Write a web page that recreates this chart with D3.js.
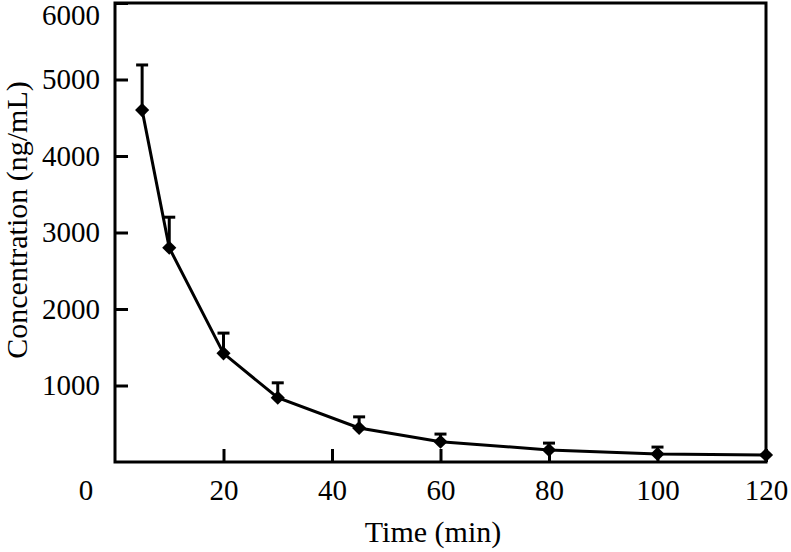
<!DOCTYPE html>
<html>
<head>
<meta charset="utf-8">
<script src="https://cdn.jsdelivr.net/npm/d3@7"></script>
<style>
  html, body { margin: 0; padding: 0; background: #fff; }
  svg { display: block; }
</style>
</head>
<body>
<svg id="chart" width="791" height="552"></svg>
<script>
// ---- data ----
const times = [5, 10, 20, 30, 45, 60, 80, 100, 120];
const conc  = [4600, 2800, 1420, 840, 445, 265, 157, 105, 92];
const sdev  = [590, 400, 265, 195, 145, 100, 90, 90, 0];
const xTicks = [20, 40, 60, 80, 100, 120];
const yTicks = [1000, 2000, 3000, 4000, 5000, 6000];
const xTitle = "Time (min)";
const yTitle = "Concentration (ng/mL)";

// ---- layout ----
const svg = d3.select("#chart");
const L = 115, R = 766, T = 3, B = 462;
const x = d3.scaleLinear().domain([0, 120]).range([L, R]);
const y = d3.scaleLinear().domain([0, 6000]).range([B, T]);
const font = "'Liberation Serif', 'Times New Roman', Times, serif";

svg.append("rect").attr("width", 791).attr("height", 552).attr("fill", "#fff");

// x axis
const gx = svg.append("g").attr("transform", `translate(0,${B})`)
  .call(d3.axisBottom(x).tickValues(xTicks).tickSize(-13).tickPadding(17).tickFormat(d3.format("d")));
gx.select(".domain").remove();
gx.selectAll("line").attr("stroke", "#000").attr("stroke-width", 3);
gx.selectAll("text").attr("font-family", font).attr("font-size", 29).attr("fill", "#000");

// y axis
const gy = svg.append("g").attr("transform", `translate(${L},0)`)
  .call(d3.axisLeft(y).tickValues(yTicks).tickSize(-13).tickPadding(15).tickFormat(d3.format("d")));
gy.select(".domain").remove();
gy.selectAll("line").attr("stroke", "#000").attr("stroke-width", 3);
gy.selectAll("text").attr("font-family", font).attr("font-size", 29).attr("fill", "#000");
// keep the top label inside the picture
gy.selectAll(".tick").filter(d => d === 6000).select("text").attr("y", 12);

// origin label
svg.append("text").attr("x", 86).attr("y", 500).attr("text-anchor", "middle")
  .attr("font-family", font).attr("font-size", 29).attr("fill", "#000").text("0");

// frame
svg.append("rect").attr("x", L).attr("y", T).attr("width", R - L).attr("height", B - T)
  .attr("fill", "none").attr("stroke", "#000").attr("stroke-width", 3);

// titles
svg.append("text").attr("x", 433).attr("y", 542).attr("text-anchor", "middle")
  .attr("font-family", font).attr("font-size", 30).attr("fill", "#000").text(xTitle);
svg.append("text").attr("transform", "translate(27,220) rotate(-90)").attr("text-anchor", "middle")
  .attr("font-family", font).attr("font-size", 30).attr("fill", "#000").text(yTitle);

// data
const pts = times.map((t, i) => ({ t, c: conc[i], s: sdev[i] }));

// error bars (upper only)
const eb = svg.append("g").attr("stroke", "#000").attr("stroke-width", 3);
pts.filter(d => d.s > 0).forEach(d => {
  eb.append("line").attr("x1", x(d.t)).attr("x2", x(d.t)).attr("y1", y(d.c)).attr("y2", y(d.c + d.s));
  eb.append("line").attr("x1", x(d.t) - 6).attr("x2", x(d.t) + 6).attr("y1", y(d.c + d.s)).attr("y2", y(d.c + d.s));
});

// line
svg.append("path").datum(pts)
  .attr("d", d3.line().x(d => x(d.t)).y(d => y(d.c)))
  .attr("fill", "none").attr("stroke", "#000").attr("stroke-width", 3);

// diamond markers
const sym = d3.symbol().type(d3.symbolSquare).size(100);
svg.append("g").selectAll("path").data(pts).join("path")
  .attr("d", sym)
  .attr("transform", d => `translate(${x(d.t)},${y(d.c)}) rotate(45)`)
  .attr("fill", "#000");
</script>
</body>
</html>
